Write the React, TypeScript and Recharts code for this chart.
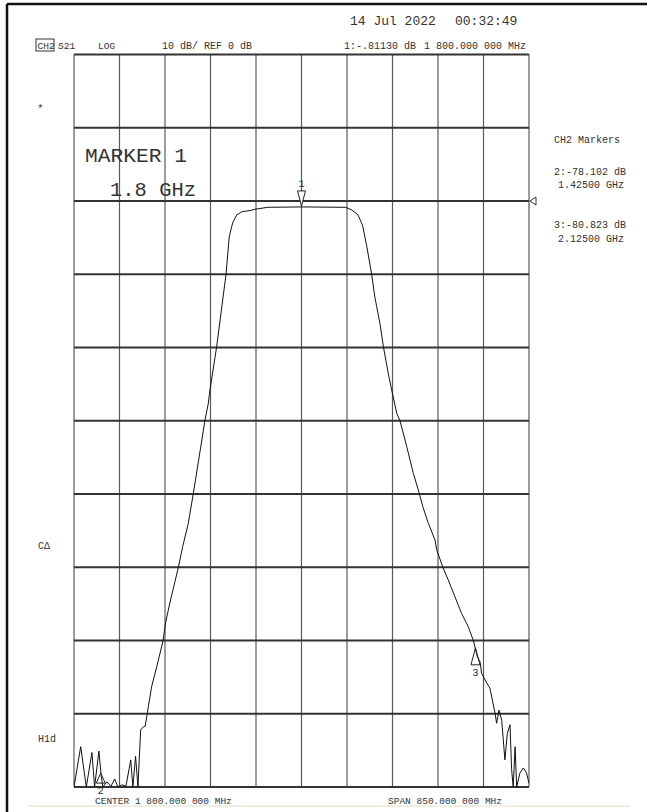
import React from 'react';
import { LineChart, Line, XAxis, YAxis, CartesianGrid, ReferenceDot } from 'recharts';

// S21 trace (MHz, dB)
const freqMHz = [
  1375, 1387.5, 1398, 1408.5, 1413.5, 1421.5, 1426, 1429, 1436.5, 1444, 1451, 1457, 1464.5, 1472,
  1481, 1485, 1490, 1494.5, 1499.5, 1504.5, 1508, 1512, 1520, 1529.5, 1541.5, 1546, 1554, 1570,
  1578, 1588.5, 1598, 1619.5, 1626, 1629, 1641.5, 1659, 1665, 1669.5, 1672, 1679, 1689, 1704,
  1713, 1737, 1800, 1882.5, 1894, 1905.5, 1914, 1922, 1931, 1937, 1946.5, 1953, 1962, 1968.5,
  1978, 1984, 1996.5, 2009, 2020, 2026.5, 2037, 2049.5, 2052.5, 2064, 2074, 2086.5, 2099, 2111.5,
  2121, 2128.5, 2133.5, 2136.5, 2146, 2152, 2161.5, 2164.5, 2169, 2174, 2180, 2184.5, 2189.5,
  2192.5, 2195.5, 2199, 2202, 2208, 2214.5, 2220.5, 2225,
];
const s21dB = [
  -80, -74.5, -80, -75.3, -80, -75.1, -78.6, -80, -79.3, -79.9, -78.9, -80, -79.7, -79.9,
  -76.3, -80, -75.8, -80, -72.2, -71.8, -71.7, -69.9, -66.3, -63.6, -60.0, -57.6, -54.9, -50.0,
  -47.2, -44.0, -39.9, -30.0, -27.6, -25.8, -19.9, -10.0, -4.9, -3.5, -2.9, -1.9, -1.46, -1.3,
  -1.13, -0.86, -0.81, -0.86, -1.23, -1.9, -3.3, -6.2, -10.0, -13.1, -16.7, -19.9, -23.5, -25.8,
  -29.0, -30.0, -33.5, -37.2, -39.9, -41.7, -44.0, -46.3, -47.6, -50.0, -51.7, -54.0, -56.3, -58.1,
  -60.0, -62.2, -62.9, -64.5, -65.8, -66.5, -69.9, -71.3, -69.5, -70.9, -76.3, -72.7, -71.5,
  -77.6, -80, -74.5, -80, -78.1, -77.4, -78.1, -79.5,
];

const xTicks = [1375, 1460, 1545, 1630, 1715, 1800, 1885, 1970, 2055, 2140, 2225];
const yTicks = [-80, -70, -60, -50, -40, -30, -20, -10, 0, 10, 20];

// markers: id, frequency, level where the symbol sits on the trace
const markerIds = ['1', '2', '3'];
const markerFreq = [1800, 1425, 2125];
const markerLevel = [-0.81, -78.1, -61.0];
const markerReadout = [
  ['2:-78.102 dB', '1.42500 GHz'],
  ['3:-80.823 dB', '2.12500 GHz'],
];

const data = freqMHz.map((f, i) => ({ f, db: s21dB[i] }));

const mono = '"Liberation Mono", "DejaVu Sans Mono", monospace';
const ink = '#2a2a2a';

function DownMarker(props: any) {
  const { cx, cy } = props;
  return (
    <g>
      <path d={`M${cx - 4},${cy - 16} L${cx + 4},${cy - 16} L${cx},${cy - 1} Z`} fill="#fff" stroke="#222" strokeWidth={1} />
      <text x={cx} y={cy - 20} textAnchor="middle" fontFamily={mono} fontSize={10} style={{ fill: ink }}>{markerIds[0]}</text>
    </g>
  );
}

function UpMarker(label: string, h: number) {
  return (props: any) => {
    const { cx, cy } = props;
    return (
      <g>
        <path d={`M${cx},${cy} L${cx + 4.5},${cy + h} L${cx - 4.5},${cy + h} Z`} fill="none" stroke="#222" strokeWidth={1} />
        <text x={cx} y={cy + h + 11} textAnchor="middle" fontFamily={mono} fontSize={10} style={{ fill: ink }}>{label}</text>
      </g>
    );
  };
}

function RefArrow(props: any) {
  const { cx, cy } = props;
  return <path d={`M${cx + 1},${cy} L${cx + 7},${cy - 4} L${cx + 7},${cy + 4} Z`} fill="#fff" stroke="#333" strokeWidth={1} />;
}

export default function App() {
  const W = 647;
  const H = 812;
  return (
    <div style={{ position: 'absolute', left: 0, top: 0, width: W, height: H, background: '#fff' }}>
      <LineChart width={W} height={H} data={data} margin={{ top: 54.5, right: 118, bottom: 25, left: 74 }}>
        <XAxis dataKey="f" type="number" domain={[1375, 2225]} ticks={xTicks} allowDataOverflow hide />
        <YAxis type="number" domain={[-80, 20]} ticks={yTicks} allowDataOverflow hide />
        <CartesianGrid horizontal={false} stroke="#5a5a5a" strokeWidth={1.2} />
        <CartesianGrid vertical={false} stroke="#333" strokeWidth={1.8} />
        <Line dataKey="db" type="linear" stroke="#111" strokeWidth={1} dot={false} isAnimationActive={false} />
        <ReferenceDot x={markerFreq[0]} y={markerLevel[0]} r={0} shape={DownMarker} ifOverflow="visible" />
        <ReferenceDot x={markerFreq[1]} y={markerLevel[1]} r={0} shape={UpMarker(markerIds[1], 10)} ifOverflow="visible" />
        <ReferenceDot x={markerFreq[2]} y={markerLevel[2]} r={0} shape={UpMarker(markerIds[2], 17)} ifOverflow="visible" />
        <ReferenceDot x={2225} y={0} r={0} shape={RefArrow} ifOverflow="visible" />
      </LineChart>
      <svg width={W} height={H} style={{ position: 'absolute', left: 0, top: 0, pointerEvents: 'none' }}>
        {/* screen frame */}
        <line x1={7} y1={4} x2={W} y2={4} stroke="#111" strokeWidth={2.5} />
        <line x1={7} y1={4} x2={7} y2={H} stroke="#111" strokeWidth={2.5} />
        <line x1={28} y1={806} x2={630} y2={806} stroke="#e4dcc4" strokeWidth={1} />

        <g fontFamily={mono} fill="#333">
          <text x={350} y={25} fontSize={13}>14 Jul 2022</text>
          <text x={455} y={25} fontSize={13}>00:32:49</text>

          <rect x={36} y={39} width={18} height={12} fill="none" stroke="#333" strokeWidth={1} />
          <text x={37.5} y={49} fontSize={9.5}>CH2</text>
          <text x={58} y={49} fontSize={9.5}>S21</text>
          <text x={98} y={49} fontSize={9.5}>LOG</text>
          <text x={162} y={49} fontSize={10}>10 dB/ REF 0 dB</text>
          <text x={344} y={49} fontSize={10}>1:-.81130 dB</text>
          <text x={424} y={49} fontSize={10}>1 800.000 000 MHz</text>

          <text x={37} y={112} fontSize={11}>*</text>
          <text x={38} y={549} fontSize={10}>C&#916;</text>
          <text x={38} y={742} fontSize={10}>H1d</text>

          <text x={85} y={162} fontSize={21} textLength={102} lengthAdjust="spacingAndGlyphs">MARKER 1</text>
          <text x={110} y={196} fontSize={21} textLength={86} lengthAdjust="spacingAndGlyphs">1.8 GHz</text>

          <text x={554} y={143} fontSize={10}>CH2 Markers</text>
          <text x={554} y={175} fontSize={10}>{markerReadout[0][0]}</text>
          <text x={558} y={188} fontSize={10}>{markerReadout[0][1]}</text>
          <text x={554} y={228} fontSize={10}>{markerReadout[1][0]}</text>
          <text x={558} y={242} fontSize={10}>{markerReadout[1][1]}</text>

          <text x={95} y={804} fontSize={9.5}>CENTER 1 800.000 000 MHz</text>
          <text x={388} y={804} fontSize={9.5}>SPAN  850.000 000 MHz</text>
        </g>
      </svg>
    </div>
  );
}
